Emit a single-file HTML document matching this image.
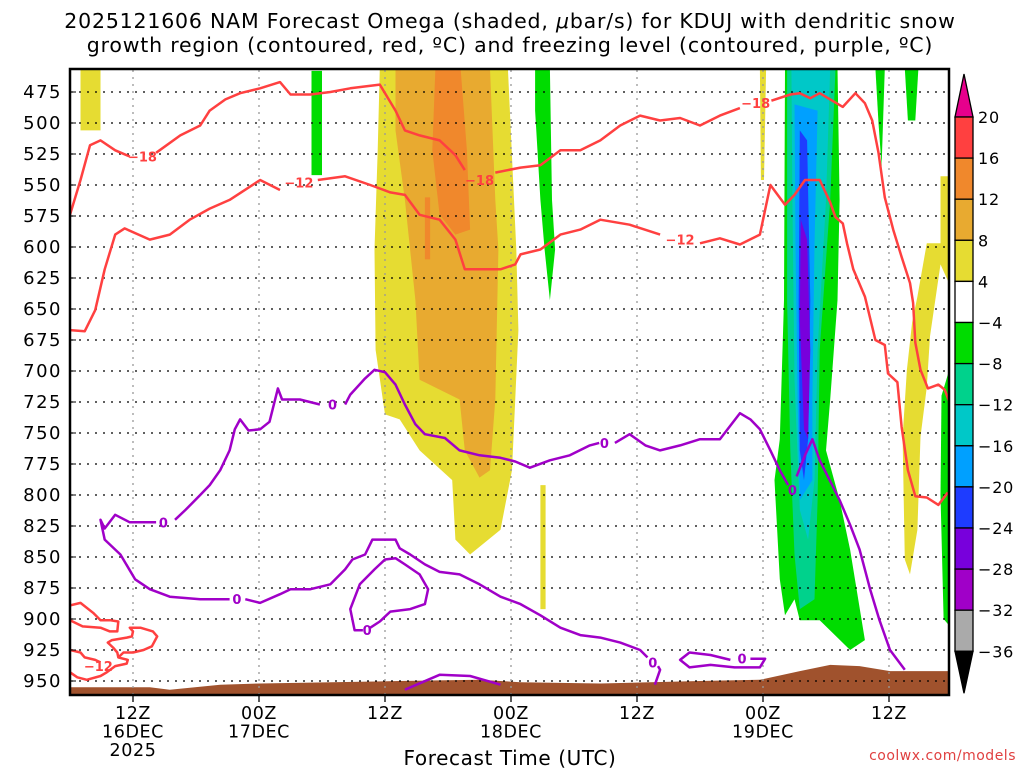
<!DOCTYPE html>
<html><head><meta charset="utf-8"><title>NAM Omega KDUJ</title>
<style>html,body{margin:0;padding:0;background:#fff;}svg{display:block;font-family:"DejaVu Sans","Liberation Sans",sans-serif;}</style>
</head><body>
<svg id="chart" width="1024" height="768" viewBox="0 0 1024 768">
<text x="510" y="28" text-anchor="middle" font-size="20.5" letter-spacing="0.8">2025121606 NAM Forecast Omega (shaded, <tspan font-style="italic">μ</tspan>bar/s) for KDUJ with dendritic snow</text>
<text x="510" y="52" text-anchor="middle" font-size="20.5" letter-spacing="0.8">growth region (contoured, red, ºC) and freezing level (contoured, purple, ºC)</text>
<defs><clipPath id="pc"><rect x="70" y="69" width="879" height="626"/></clipPath></defs>
<g id="shade" clip-path="url(#pc)"></g>
<g id="grid"></g>
<g id="cont" clip-path="url(#pc)"></g>
<rect x="70" y="69" width="879" height="626" fill="none" stroke="#000" stroke-width="2.5"/>
<g id="axes"></g>
<text x="510" y="765" text-anchor="middle" font-size="20" letter-spacing="0.6">Forecast Time (UTC)</text>
<text x="1016" y="760" text-anchor="end" font-size="14" letter-spacing="0.5" fill="#e04040">coolwx.com/models</text>
<g id="cbar"></g>
</svg>
<script>
const pTicks=[475,500,525,550,575,600,625,650,675,700,725,750,775,800,825,850,875,900,925,950];
const tTickHours=[6,18,30,42,54,66,78];
const tTickLabels=[["12Z","16DEC","2025"],["00Z","17DEC"],["12Z"],["00Z","18DEC"],["12Z"],["00Z","19DEC"],["12Z"]];
const cbLevels=[20,16,12,8,4,-4,-8,-12,-16,-20,-24,-28,-32,-36];
const cbColors=["#ff4040","#f0882c","#e8aa30","#e6dc32","#ffffff","#00dc00","#00d28c","#00c8c8","#00a0ff","#1e3cff","#7800dc","#a000c8","#aaaaaa"];
// shaded omega regions [hour, hPa,...]
const yellowMain=[29.5,456,41.7,456,42.5,602,42.7,667,42.1,780,41,828,38.1,848,36.7,836,36.4,788,33.3,764,31.4,739,30,735,29.1,683,29,602,29.3,522];
const orange8=[31,456,40,456,40.5,562,40.8,602,40.5,723,40,780,39,786,37.6,764,37.1,723,35.2,715,33.3,707,32.9,643,31.9,562,31,506];
const orange12=[34.8,456,37.2,456,37.8,522,38.1,586,36.7,590,35.2,574,34.5,522];
const orange12b=[33.8,560,34.3,560,34.3,610,33.8,610];
const yellowTL=[1,456,2.9,456,2.9,506,1,506];
const yellowA=[65.7,456,66.3,456,66.1,546,65.8,546];
const yellowB=[44.8,792,45.3,792,45.3,892,44.8,892];
const yellowR=[82.9,543,83.7,543,83.7,629,82.9,614,81.9,672,81.6,713,81,753,80.7,828,80,864,79.5,852,79.3,753,79.7,699,80.2,661,80.7,640,81.6,597,82.9,597];
const green1=[23,458,24,458,24,542,23,542];
const green2=[44.3,456,45.7,456,45.9,562,46.2,602,45.7,643,45.2,602,44.8,562,44.3,490];
const green3=[76.7,456,77.6,456,77.3,535,77,500];
const green4=[79.5,456,80.8,456,80.5,498,79.8,498];
const green5=[83,720,83.7,700,83.7,905,83.2,900,82.9,800];
const greenBig=[68.1,456,73.1,456,73.3,562,73.1,643,72.4,723,72,764,73.3,804,74.3,844,75.7,917,74.3,925,71.4,901,69.5,901,69,884,68.1,897,67.6,868,67.1,788,67.6,755,68,643];
const teal=[68.3,456,72.9,456,72.4,562,71.4,683,71.2,804,70.9,884,69.5,892,69,848,68.6,764,68.3,643];
const cyan=[68.7,456,72.4,456,72,562,71.2,683,70.9,788,70.3,836,69.5,812,69,707,68.8,562];
const lblue=[69,485,71.2,490,70.9,598,70.7,723,70.7,788,69.5,804,69.3,723,69.1,598];
const blue=[69.5,506,70.2,514,70.5,643,70.3,755,69.9,788,69.5,764,69.4,643];
const purple=[69.6,578,70.2,594,70.5,683,70.3,755,69.9,747,69.5,659];
const terrain=[0,955,7.6,955,9.5,957,14.3,953,18.1,952,31.4,950,39,949,42.9,951,50.5,952,60,950,65.7,949,69.5,942,72.4,937,75.2,938,78.1,942,84,942];
// red contours
const red18a=[0,574,1,546,1.9,518,2.9,514,4.3,522,5.7,527];
const red18b=[8.2,524,10.5,510,12.4,502,13.3,490,14.8,481,16.2,476,18.1,472,20,467,21,477,22.9,477,24.8,475,26.7,472,29.5,469,31,490,31.9,506,33.3,510,35.2,514,36.7,526,37.6,538];
const red18c=[40.5,540,42.9,536,44.8,534,46.7,522,48.6,522,50.5,514,52.4,502,54.3,494,56.2,498,58.1,496,60,502,61.9,494,63.8,488];
const red18d=[66.8,482,68.6,477,69.5,476,70.5,480,71.4,476,72.4,481,73.6,487,74.8,476,75.7,484,76.4,498,77,524,77.6,560,78.4,586,79.2,608,80,629,80.3,645,80.5,677,81,699,81.7,714,82.7,711,83.3,715,83.8,726];
const red12a=[0,667,1.4,668,2.4,651,3.3,618,4.3,590,5.2,585,7.6,594,9.5,590,11.4,578,13.3,569,15.2,562,18.1,546,20,554];
const red12b=[23.6,546,26.2,543,28.6,550,30.5,556,31.9,558,33.3,574,35.2,578,36.7,594,37.6,618,39,618,41,618,42.4,614,42.9,606,44.8,602,46.7,590,48.6,586,50.5,578,53.3,582,56.2,590];
const red12c=[60,597,61.9,593,63.8,598,65.7,590,66.7,550,68.1,566,69,558,70,546,71.4,546,72.4,564,72.9,576,73.6,581,74,597,74.6,618,75.7,640,76.7,675,77.6,679,77.9,702,78.8,709,79.2,745,79.8,780,80.5,801,81.6,802,82.7,808,83.6,798];
const red12d=[0,889,1,887,2.2,895,2.9,901,3.8,901,4.6,902,4.5,910,3.8,910,2.9,907,1.2,906,0,901];
const red12e=[0,925,1,927,1.4,931,2.4,933,2.9,935];
const red12f=[0,943,0.7,947,1.6,949,2.9,946,3.5,943,4.3,938,5.4,936,5.5,933,4.6,931,4.5,927,4.1,923,3.6,919,4,917,5.4,915,5.9,914,6,910,5.7,907,6.7,907,7.9,910,8.3,914,7.8,922,7,925,6,927,5.1,927,4.6,931];
// freezing level contours
const fz0a=[8.2,822,7.6,822,5.7,822,4.3,816,3.3,827,2.9,820,3.3,836,4.8,848,6.2,868,7.6,876,9.5,882,12.4,884,15.2,884];
const fz0b=[10,820,11,812,12.4,800,13.3,792,14.3,780,15.2,764,15.7,747,16.2,739,17,748,18.1,747,19,741,19.8,714,20.2,723,21.9,723,23.8,727];
const fz0c=[26.2,727,26.7,719,28.1,706,29,699,30,701,31,711,31.9,727,32.9,743,33.8,751,35.7,754,37.1,764,39,768,41,770,42.4,773,43.8,778,45.7,772,47.6,768,49.5,760,50.4,758];
const fz0d=[51.9,758,53.3,751,54.8,760,56.2,764,58.1,760,60,755,61.9,755,63.8,734,64.8,739,65.7,747,66.7,764,67.6,780,68.4,792];
const fz0e=[69.2,785,70,768,70.7,755,71.4,772,73.3,804,74.3,824,75.2,844,76.2,876,77.1,901,78.1,925,79.5,941];
const fz0f=[16.7,884,18.1,887,20,880,21,876,22.9,876,24.8,872,26.2,860,26.9,852,28.1,848,28.8,836,31,836,31.4,843,32.4,848,33.8,856,35.2,862,37.1,864,39,872,41,882,42.9,888,44.8,897,46.7,907,48.6,913,50.5,915,52.4,919,54.3,925,55,931];
const fz0g=[56,938,56.2,941,55.7,953];
const fz0h=[28.6,907,29.5,902,30.5,894,32.4,892,33.8,888,34.1,876,33.3,864,31.9,856,31,851,30,852,29,860,27.6,872,26.7,892,27.1,909,27.9,909];
const fz0i=[62.9,933,61,929,59,927,58.1,933,59,939,61,937,63.3,939,65.7,939,66.2,932,64.8,932];
const fz0j=[31.9,957,35.2,945,38.1,946,41,953];
const redLabels=[[6.9,527,"−18"],[39,546,"−18"],[65.3,484,"−18"],[21.8,548,"−12"],[58.1,594,"−12"],[2.7,938,"−12"]];
const purpleLabels=[[8.9,822,"0"],[25,727,"0"],[15.9,884,"0"],[50.9,758,"0"],[68.8,796,"0"],[28.3,909,"0"],[55.5,935,"0"],[64,932,"0"]];

const NS="http://www.w3.org/2000/svg";
function X(h){return 70+h*10.5;}
function Y(p){return 92+(p-475)*1.24;}
function pts(a){let s=[];for(let i=0;i<a.length;i+=2)s.push(X(a[i]).toFixed(1)+","+Y(a[i+1]).toFixed(1));return s.join(" ");}
function mk(tag,parent,attrs){const e=document.createElementNS(NS,tag);for(const k in attrs)e.setAttribute(k,attrs[k]);parent.appendChild(e);return e;}
const shade=document.getElementById("shade");
const shapes=[[yellowMain,"#e6dc32","omega-4-8-main"],[orange8,"#e8aa30","omega-8-12"],[orange12,"#f0882c","omega-12-16"],[orange12b,"#f0882c","omega-12-16-strip"],[yellowTL,"#e6dc32","omega-4-8-early"],[yellowA,"#e6dc32","omega-4-8-strip"],[yellowB,"#e6dc32","omega-4-8-low"],[yellowR,"#e6dc32","omega-4-8-late"],[green1,"#00dc00","omega-neg4-a"],[green2,"#00dc00","omega-neg4-b"],[green3,"#00dc00","omega-neg4-c"],[green4,"#00dc00","omega-neg4-d"],[green5,"#00dc00","omega-neg4-e"],[greenBig,"#00dc00","omega-neg4-main"],[teal,"#00d28c","omega-neg8"],[cyan,"#00c8c8","omega-neg12"],[lblue,"#00a0ff","omega-neg16"],[blue,"#1e3cff","omega-neg20"],[purple,"#7800dc","omega-neg24"]];
shapes.forEach(s=>{const e=mk("polygon",shade,{points:pts(s[0]),fill:s[1]});

});
const tp=terrain.slice();tp.push(84,965,0,965);
const te=mk("polygon",shade,{points:pts(tp),fill:"#a0522d"});


// grid
const grid=document.getElementById("grid");
pTicks.forEach(p=>{const l=mk("line",grid,{x1:71,x2:948,y1:Y(p),y2:Y(p),stroke:"#000","stroke-width":1.3,"stroke-dasharray":"2 6"});

});
tTickHours.forEach(h=>{const l=mk("line",grid,{x1:X(h),x2:X(h),y1:70,y2:694,stroke:"#999","stroke-width":1.3,"stroke-dasharray":"2 5"});

});
// contours
const cont=document.getElementById("cont");
[red18a,red18b,red18c,red18d,red12a,red12b,red12c,red12d,red12e,red12f].forEach(a=>{const e=mk("polyline",cont,{points:pts(a),fill:"none",stroke:"#ff4040","stroke-width":2.5,"stroke-linejoin":"round"});

});
[fz0a,fz0b,fz0c,fz0d,fz0e,fz0f,fz0g,fz0h,fz0i,fz0j].forEach(a=>{const e=mk("polyline",cont,{points:pts(a),fill:"none",stroke:"#a000c8","stroke-width":2.5,"stroke-linejoin":"round"});

});
redLabels.forEach(l=>{const t=mk("text",cont,{x:X(l[0]),y:Y(l[1])+5,"text-anchor":"middle","font-size":13,"font-weight":"bold",fill:"#ff4040"});t.textContent=l[2];

});
purpleLabels.forEach(l=>{const t=mk("text",cont,{x:X(l[0]),y:Y(l[1])+5,"text-anchor":"middle","font-size":13,"font-weight":"bold",fill:"#a000c8"});t.textContent=l[2];

});
// axes
const axes=document.getElementById("axes");
pTicks.forEach(p=>{const t=mk("text",axes,{x:62,y:Y(p)+6,"text-anchor":"end","font-size":18,"letter-spacing":1.5});t.textContent=p;


const k=mk("line",axes,{x1:70,x2:76,y1:Y(p),y2:Y(p),stroke:"#000","stroke-width":1});

});
tTickHours.forEach((h,i)=>{const k=mk("line",axes,{x1:X(h),x2:X(h),y1:695,y2:702,stroke:"#000","stroke-width":1.3});


tTickLabels[i].forEach((s,j)=>{const t=mk("text",axes,{x:X(h),y:719+j*18.5,"text-anchor":"middle","font-size":17.5,"letter-spacing":0.6});t.textContent=s;

});});
// colorbar
const cb=document.getElementById("cbar");
const cbTop=117,cbStep=41.1,cx=955,cw=18;
const up=mk("polygon",cb,{points:`${cx},${cbTop} ${cx+cw},${cbTop} ${cx+cw/2},${cbTop-43}`,fill:"#e6008c",stroke:"#000","stroke-width":1.3});


cbColors.forEach((c,i)=>{const r=mk("rect",cb,{x:cx,y:cbTop+i*cbStep,width:cw,height:cbStep,fill:c,stroke:"#000","stroke-width":1.3});

});
const yb=cbTop+cbColors.length*cbStep;
const dn=mk("polygon",cb,{points:`${cx},${yb} ${cx+cw},${yb} ${cx+cw/2},${yb+42}`,fill:"#000",stroke:"#000","stroke-width":1.3});


cbLevels.forEach((v,i)=>{const t=mk("text",cb,{x:978,y:cbTop+i*cbStep+6,"font-size":16,"letter-spacing":0.8});t.textContent=v<0?"−"+Math.abs(v):String(v);

});
</script>
</body></html>
